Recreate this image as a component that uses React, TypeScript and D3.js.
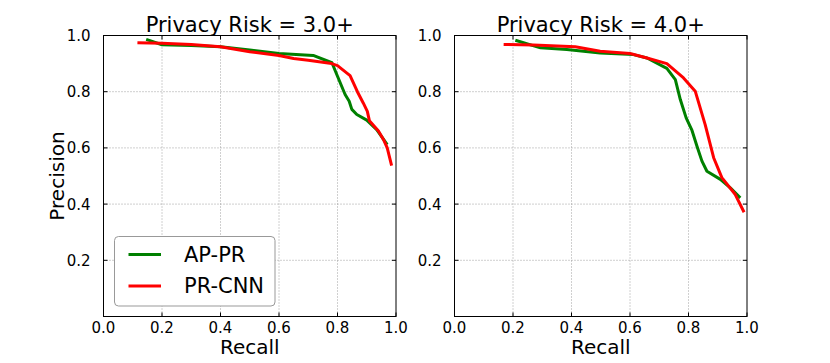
import React from "react";
import * as d3 from "d3";

const W = 830;
const H = 363;

const panelTitles = ["Privacy Risk = 3.0+", "Privacy Risk = 4.0+"];
const seriesNames = ["AP-PR", "PR-CNN"];
const seriesColors = ["#008000", "#ff0000"];

const xTicks = [0, 0.2, 0.4, 0.6, 0.8, 1.0];
const yTicks = [0.2, 0.4, 0.6, 0.8, 1.0];

// risk 3.0+
const apRecall3 = [0.146, 0.2, 0.3, 0.4, 0.5, 0.6, 0.717, 0.781, 0.8, 0.826, 0.84, 0.849, 0.866, 0.9, 0.934, 0.97];
const apPrec3 = [0.986, 0.967, 0.964, 0.96, 0.948, 0.936, 0.929, 0.903, 0.855, 0.79, 0.766, 0.737, 0.719, 0.699, 0.665, 0.612];
const cnnRecall3 = [0.116, 0.2, 0.3, 0.4, 0.5, 0.6, 0.65, 0.7, 0.78, 0.8, 0.843, 0.868, 0.888, 0.902, 0.909, 0.94, 0.957, 0.97, 0.985];
const cnnPrec3 = [0.974, 0.972, 0.968, 0.96, 0.942, 0.929, 0.918, 0.912, 0.9, 0.893, 0.857, 0.8, 0.76, 0.73, 0.697, 0.66, 0.63, 0.6, 0.537];

// risk 4.0+
const apRecall4 = [0.208, 0.294, 0.384, 0.498, 0.612, 0.658, 0.726, 0.755, 0.772, 0.792, 0.812, 0.829, 0.846, 0.863, 0.909, 0.943, 0.977];
const apPrec4 = [0.983, 0.956, 0.95, 0.938, 0.932, 0.92, 0.883, 0.843, 0.772, 0.707, 0.662, 0.606, 0.553, 0.517, 0.488, 0.458, 0.422];
const cnnRecall4 = [0.168, 0.27, 0.413, 0.498, 0.6, 0.658, 0.726, 0.783, 0.823, 0.857, 0.886, 0.914, 0.96, 0.99];
const cnnPrec4 = [0.968, 0.966, 0.96, 0.944, 0.936, 0.92, 0.9, 0.849, 0.802, 0.683, 0.565, 0.494, 0.434, 0.371];

const panels = [
  { title: panelTitles[0], curves: [[apRecall3, apPrec3], [cnnRecall3, cnnPrec3]] },
  { title: panelTitles[1], curves: [[apRecall4, apPrec4], [cnnRecall4, cnnPrec4]] },
];

const panelLeft = [103.5, 454.5];
const panelW = 292.5;
const top = 35.5;
const bottom = 316.5;
const font = "DejaVu Sans, sans-serif";

const Panel = ({ idx }: { idx: number }) => {
  const p = panels[idx];
  const x0 = panelLeft[idx];
  const x = d3.scaleLinear().domain([0, 1]).range([x0, x0 + panelW]);
  const y = d3.scaleLinear().domain([0, 1]).range([bottom, top]);
  const line = d3
    .line<[number, number]>()
    .x((d) => x(d[0]))
    .y((d) => y(d[1]));

  return (
    <g>
      {/* grid */}
      {xTicks.slice(1, -1).map((t) => (
        <line key={"gx" + t} x1={x(t)} x2={x(t)} y1={top} y2={bottom}
          stroke="#888" strokeWidth={0.8} strokeDasharray="1,2" />
      ))}
      {yTicks.slice(0, -1).map((t) => (
        <line key={"gy" + t} x1={x0} x2={x0 + panelW} y1={y(t)} y2={y(t)}
          stroke="#888" strokeWidth={0.8} strokeDasharray="1,2" />
      ))}
      {/* curves */}
      {p.curves.map((c, i) => (
        <path key={i}
          d={line(c[0].map((r, j) => [r, c[1][j]]) as [number, number][]) || ""}
          fill="none" stroke={seriesColors[i]} strokeWidth={3}
          strokeLinejoin="round" />
      ))}
      {/* frame */}
      <rect x={x0} y={top} width={panelW} height={bottom - top}
        fill="none" stroke="#000" strokeWidth={1} />
      {/* inward ticks */}
      {xTicks.map((t) => (
        <g key={"tx" + t}>
          <line x1={x(t)} x2={x(t)} y1={bottom} y2={bottom - 4} stroke="#000" />
          <line x1={x(t)} x2={x(t)} y1={top} y2={top + 4} stroke="#000" />
          <text x={x(t)} y={333} textAnchor="middle" fontSize={15}
            fontFamily={font} fill="#000">{t.toFixed(1)}</text>
        </g>
      ))}
      {yTicks.map((t) => (
        <g key={"ty" + t}>
          <line x1={x0} x2={x0 + 4} y1={y(t)} y2={y(t)} stroke="#000" />
          <line x1={x0 + panelW} x2={x0 + panelW - 4} y1={y(t)} y2={y(t)} stroke="#000" />
          <text x={x0 - 13} y={y(t)} dy="0.36em" textAnchor="end" fontSize={15}
            fontFamily={font} fill="#000">{t.toFixed(1)}</text>
        </g>
      ))}
      <text x={x0 + panelW / 2} y={32} textAnchor="middle" fontSize={21}
        fontFamily={font} fill="#000">{p.title}</text>
      <text x={x0 + panelW / 2} y={354} textAnchor="middle" fontSize={20}
        fontFamily={font} fill="#000">Recall</text>
    </g>
  );
};

const Legend = () => {
  const lx = 114.5;
  const ly = 236.5;
  return (
    <g>
      <rect x={lx} y={ly} width={160.5} height={69.5} rx={4} ry={4}
        fill="#fff" stroke="#999" strokeWidth={1} />
      {seriesNames.map((n, i) => (
        <g key={n}>
          <line x1={128.5} x2={161} y1={254.5 + i * 31.4} y2={254.5 + i * 31.4}
            stroke={seriesColors[i]} strokeWidth={3} />
          <text x={184} y={261.8 + i * 31.5} fontSize={21} fontFamily={font} fill="#000">{n}</text>
        </g>
      ))}
    </g>
  );
};

export default function App() {
  return (
    <svg width={W} height={H} style={{ position: "absolute", left: 0, top: 0, background: "#fff" }}>
      <rect width={W} height={H} fill="#fff" />
      <Panel idx={0} />
      <Panel idx={1} />
      <text transform={`translate(64,${(top + bottom) / 2}) rotate(-90)`} textAnchor="middle"
        fontSize={20} fontFamily={font} fill="#000">Precision</text>
      <Legend />
    </svg>
  );
}
